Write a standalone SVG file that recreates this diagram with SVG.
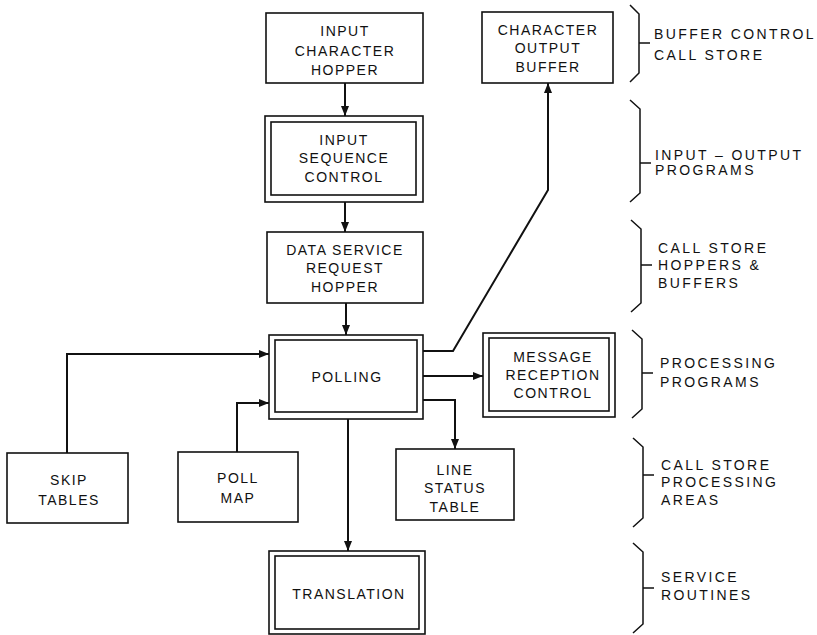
<svg xmlns="http://www.w3.org/2000/svg" width="817" height="635" viewBox="0 0 817 635">
<defs>
<style>
.box{fill:#fff;stroke:#111;stroke-width:1.6}
.in{fill:none;stroke:#111;stroke-width:1.6}
.t{font-family:"Liberation Sans",Arial,sans-serif;font-size:14px;fill:#111;text-anchor:middle;letter-spacing:1.5px}
.b{font-family:"Liberation Sans",Arial,sans-serif;font-size:14px;fill:#111;letter-spacing:2.4px}
.c{fill:none;stroke:#111;stroke-width:2}
.br{fill:none;stroke:#111;stroke-width:1.5}
</style>
<marker id="ah" markerUnits="userSpaceOnUse" markerWidth="10" markerHeight="8" refX="10" refY="4" orient="auto">
<path d="M0,0 L10,4 L0,8 Z" fill="#111"/>
</marker>
</defs>
<rect width="817" height="635" fill="#fff"/>

<g id="connectors">
<path class="c" d="M345,83 V116" marker-end="url(#ah)"/>
<path class="c" d="M345,202 V232" marker-end="url(#ah)"/>
<path class="c" d="M346,303 V335" marker-end="url(#ah)"/>
<path class="c" d="M67,453 V354 H269" marker-end="url(#ah)"/>
<path class="c" d="M237,452 V403 H269" marker-end="url(#ah)"/>
<path class="c" d="M423,351 H453 L548,190 V83" marker-end="url(#ah)"/>
<path class="c" d="M423,376 H483" marker-end="url(#ah)"/>
<path class="c" d="M423,400 H455 V449" marker-end="url(#ah)"/>
<path class="c" d="M348,419 V551" marker-end="url(#ah)"/>
</g>

<g id="input-character-hopper">
<rect class="box" x="266" y="13" width="157" height="70"/>
<text class="t" x="345" y="36">INPUT</text>
<text class="t" x="345" y="56">CHARACTER</text>
<text class="t" x="345" y="75">HOPPER</text>
</g>

<g id="input-sequence-control">
<rect class="box" x="265" y="116" width="158" height="86"/>
<rect class="in" x="271" y="122" width="145" height="73"/>
<text class="t" x="344" y="145">INPUT</text>
<text class="t" x="344" y="163">SEQUENCE</text>
<text class="t" x="344" y="182">CONTROL</text>
</g>

<g id="data-service-request-hopper">
<rect class="box" x="267" y="232" width="156" height="71"/>
<text class="t" x="345" y="255">DATA  SERVICE</text>
<text class="t" x="345" y="273">REQUEST</text>
<text class="t" x="345" y="292">HOPPER</text>
</g>

<g id="polling">
<rect class="box" x="269" y="335" width="154" height="84"/>
<rect class="in" x="275" y="340" width="142" height="72"/>
<text class="t" x="347" y="382">POLLING</text>
</g>

<g id="character-output-buffer">
<rect class="box" x="482" y="12" width="131" height="71"/>
<text class="t" x="548" y="35">CHARACTER</text>
<text class="t" x="548" y="53">OUTPUT</text>
<text class="t" x="548" y="72">BUFFER</text>
</g>

<g id="message-reception-control">
<rect class="box" x="483" y="333" width="132" height="84"/>
<rect class="in" x="489" y="338" width="120" height="73"/>
<text class="t" x="553" y="362">MESSAGE</text>
<text class="t" x="553" y="380">RECEPTION</text>
<text class="t" x="553" y="398">CONTROL</text>
</g>

<g id="skip-tables">
<rect class="box" x="7" y="453" width="121" height="70"/>
<text class="t" x="69" y="485">SKIP</text>
<text class="t" x="69" y="505">TABLES</text>
</g>

<g id="poll-map">
<rect class="box" x="178" y="452" width="120" height="70"/>
<text class="t" x="238" y="483">POLL</text>
<text class="t" x="238" y="503">MAP</text>
</g>

<g id="line-status-table">
<rect class="box" x="396" y="449" width="118" height="71"/>
<text class="t" x="455" y="475">LINE</text>
<text class="t" x="455" y="493">STATUS</text>
<text class="t" x="455" y="512">TABLE</text>
</g>

<g id="translation">
<rect class="box" x="269" y="551" width="156" height="83"/>
<rect class="in" x="275" y="556" width="144" height="73"/>
<text class="t" x="349" y="599">TRANSLATION</text>
</g>

<g id="brace-1">
<path class="br" d="M630,5 L639,14 V73 L630,82 M639,43 H650"/>
<text class="b" x="654" y="39">BUFFER  CONTROL</text>
<text class="b" x="654" y="60">CALL  STORE</text>
</g>
<g id="brace-2">
<path class="br" d="M630,100 L640,109 V193 L630,202 M640,163 H651"/>
<text class="b" x="655" y="160">INPUT – OUTPUT</text>
<text class="b" x="655" y="175">PROGRAMS</text>
</g>
<g id="brace-3">
<path class="br" d="M631,220 L641,229 V303 L631,312 M641,265 H652"/>
<text class="b" x="658" y="253">CALL  STORE</text>
<text class="b" x="658" y="270">HOPPERS  &amp;</text>
<text class="b" x="658" y="288">BUFFERS</text>
</g>
<g id="brace-4">
<path class="br" d="M632,330 L642,339 V409 L632,418 M642,373 H653"/>
<text class="b" x="660" y="368">PROCESSING</text>
<text class="b" x="660" y="387">PROGRAMS</text>
</g>
<g id="brace-5">
<path class="br" d="M633,438 L643,447 V518 L633,527 M643,475 H654"/>
<text class="b" x="661" y="470">CALL  STORE</text>
<text class="b" x="661" y="487">PROCESSING</text>
<text class="b" x="661" y="505">AREAS</text>
</g>
<g id="brace-6">
<path class="br" d="M633,543 L643,552 V624 L633,633 M643,588 H654"/>
<text class="b" x="661" y="582">SERVICE</text>
<text class="b" x="661" y="600">ROUTINES</text>
</g>
</svg>
